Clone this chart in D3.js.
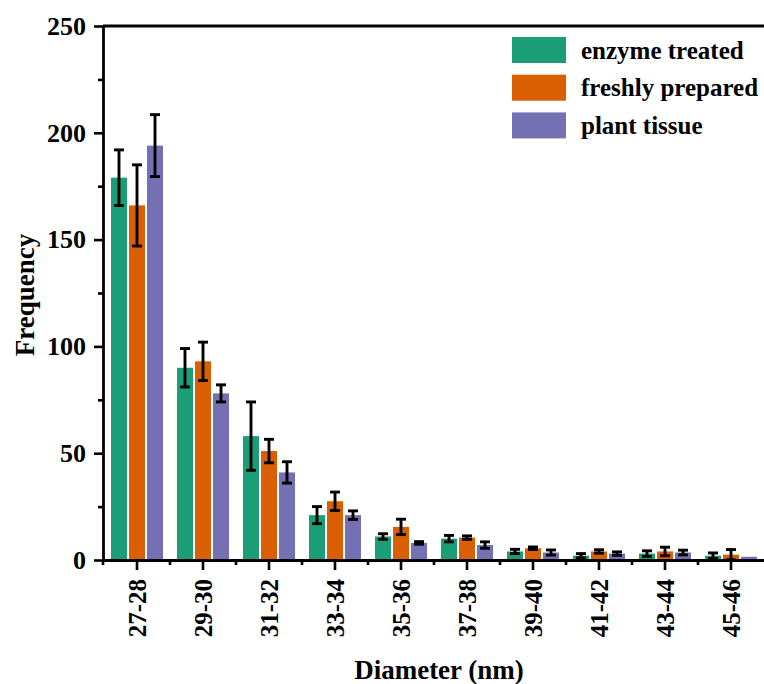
<!DOCTYPE html>
<html>
<head>
<meta charset="utf-8">
<script src="https://cdn.jsdelivr.net/npm/d3@7"></script>
<style>
  html, body { margin: 0; padding: 0; background: #fff; }
  svg { display: block; }
  text { font-family: "Liberation Serif", "Times New Roman", serif; font-weight: bold; fill: #000; }
</style>
</head>
<body>
<svg id="chart" width="764" height="684"></svg>
<script>
// Diameter bins (nm)
const categories = ["27-28", "29-30", "31-32", "33-34", "35-36", "37-38", "39-40", "41-42", "43-44", "45-46"];
const seriesNames = ["enzyme treated", "freshly prepared", "plant tissue"];
const seriesColors = ["#1b9e77", "#d95f02", "#7570b3"];

// Mean frequency per bin
const enzymeTreated   = [179, 90, 58, 21, 11, 10, 4, 2, 3, 2];
const freshlyPrepared = [166, 93, 51, 27.5, 15.5, 10.5, 5.5, 4, 4, 2.5];
const plantTissue     = [194, 78, 41, 21, 8, 7, 3.5, 3, 3.5, 1.5];

// Standard deviation per bin
const enzymeTreatedErr   = [13, 9, 16, 4, 1.3, 1.5, 1, 1, 1.3, 1.3];
const freshlyPreparedErr = [19, 9, 5.5, 4.3, 3.6, 0.8, 0.6, 0.8, 2, 2.4];
const plantTissueErr     = [14.5, 4, 5, 2, 0.6, 1.5, 1.2, 0.8, 1.1, 0];

const yTicks = [0, 50, 100, 150, 200, 250];

const seriesValues = [enzymeTreated, freshlyPrepared, plantTissue];
const seriesErrors = [enzymeTreatedErr, freshlyPreparedErr, plantTissueErr];

const svg = d3.select("#chart");
const plot = { left: 103, top: 26, bottom: 560, right: 764 };

const x = d3.scaleBand().domain(categories).range([plot.left + 1, plot.right]).padding(0);
const xs = d3.scaleBand().domain(seriesNames).range([6, x.bandwidth() - 6])
  .paddingInner(0.111).paddingOuter(0.055);
const y = d3.scaleLinear().domain([0, 250]).range([plot.bottom, plot.top]);

// Flattened records for the bars
const records = [];
categories.forEach((c, i) => {
  seriesNames.forEach((s, j) => {
    records.push({ cat: c, series: s, color: seriesColors[j], value: seriesValues[j][i], err: seriesErrors[j][i] });
  });
});

// Bars
svg.append("g").selectAll("rect").data(records).join("rect")
  .attr("x", d => x(d.cat) + xs(d.series))
  .attr("y", d => y(d.value))
  .attr("width", xs.bandwidth())
  .attr("height", d => y(0) - y(d.value))
  .attr("fill", d => d.color);

// Error bars
const eb = svg.append("g").attr("stroke", "#000").attr("stroke-width", 2.9).attr("fill", "none");
records.filter(d => d.err > 0).forEach(d => {
  const cx = x(d.cat) + xs(d.series) + xs.bandwidth() / 2;
  const y1 = y(d.value + d.err), y2 = y(d.value - d.err);
  eb.append("line").attr("x1", cx).attr("x2", cx).attr("y1", y1).attr("y2", y2);
  eb.append("line").attr("x1", cx - 5).attr("x2", cx + 5).attr("y1", y1).attr("y2", y1);
  eb.append("line").attr("x1", cx - 5).attr("x2", cx + 5).attr("y1", y2).attr("y2", y2);
});

// Y axis with major and minor ticks
const yAxis = svg.append("g").attr("transform", `translate(${plot.left},0)`)
  .call(d3.axisLeft(y).tickValues(yTicks).tickSize(9).tickPadding(8).tickSizeOuter(0));
const yMinor = svg.append("g").attr("transform", `translate(${plot.left},0)`)
  .call(d3.axisLeft(y).tickValues(d3.range(25, 250, 50)).tickSize(5).tickFormat("").tickSizeOuter(0));
[yAxis, yMinor].forEach(g => {
  g.select(".domain").attr("stroke-width", 2.8);
  g.selectAll(".tick line").attr("stroke-width", 2.6);
});
yMinor.select(".domain").remove();
yAxis.selectAll(".tick text")
  .attr("font-size", 26)
  .attr("font-family", "Liberation Serif, Times New Roman, serif")
  .attr("font-weight", "bold");

// X axis with category ticks and minor ticks at bin boundaries
const xAxis = svg.append("g").attr("transform", `translate(0,${plot.bottom})`)
  .call(d3.axisBottom(x).tickSize(10).tickSizeOuter(0).tickPadding(4));
xAxis.select(".domain").attr("d", `M${plot.left},0.5H${plot.right}`).attr("stroke-width", 2.8);
xAxis.selectAll(".tick line").attr("stroke-width", 2.6);
xAxis.selectAll(".tick text")
  .attr("font-size", 25)
  .attr("font-family", "Liberation Serif, Times New Roman, serif")
  .attr("font-weight", "bold")
  .attr("transform", "rotate(-90)")
  .attr("text-anchor", "end")
  .attr("x", -19)
  .attr("y", 0)
  .attr("dy", "0.35em");
const xMinorPos = categories.map(c => x(c)).concat([x(categories[categories.length - 1]) + x.bandwidth()]);
svg.append("g").selectAll("line").data(xMinorPos.slice(1, -1)).join("line")
  .attr("x1", d => d).attr("x2", d => d)
  .attr("y1", plot.bottom).attr("y2", plot.bottom + 5)
  .attr("stroke", "#000").attr("stroke-width", 2.6);
svg.append("line").attr("x1", plot.left).attr("x2", plot.left)
  .attr("y1", plot.bottom).attr("y2", plot.bottom + 5)
  .attr("stroke", "#000").attr("stroke-width", 2.6);

// Top frame
svg.append("line").attr("x1", plot.left).attr("x2", plot.right)
  .attr("y1", y(250)).attr("y2", y(250))
  .attr("stroke", "#000").attr("stroke-width", 2.8);

// Axis titles
svg.append("text").attr("x", 439).attr("y", 679)
  .attr("text-anchor", "middle").attr("font-size", 27).text("Diameter (nm)");
svg.append("text").attr("transform", "translate(34,295) rotate(-90)")
  .attr("text-anchor", "middle").attr("font-size", 27).text("Frequency");

// Legend
const legend = svg.append("g").attr("transform", "translate(512,37)");
seriesNames.forEach((s, j) => {
  const g = legend.append("g").attr("transform", `translate(0,${j * 37.7})`);
  g.append("rect").attr("width", 54).attr("height", 26).attr("fill", seriesColors[j]);
  g.append("text").attr("x", 69).attr("y", 13).attr("dy", "0.35em")
    .attr("font-size", 25).text(s);
});
</script>
</body>
</html>
